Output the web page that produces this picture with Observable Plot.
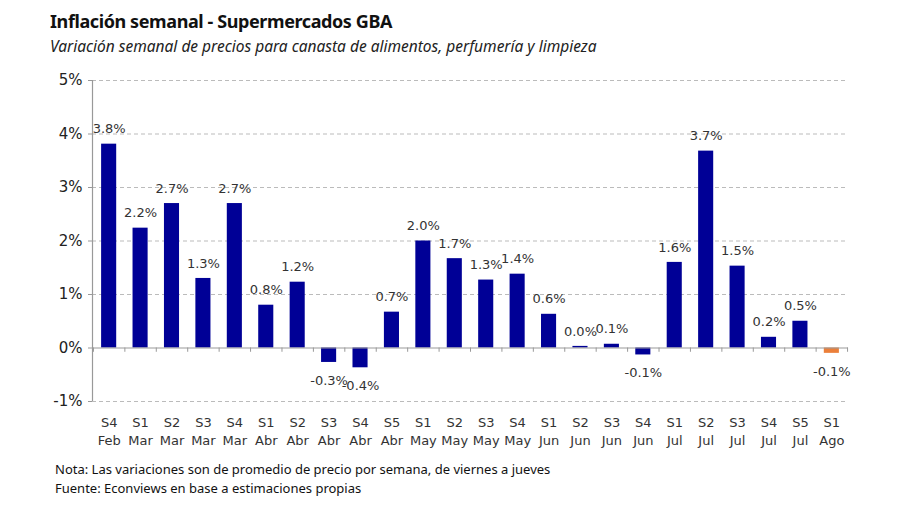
<!DOCTYPE html>
<html>
<head>
<meta charset="utf-8">
<script src="https://cdn.jsdelivr.net/npm/d3@7"></script>
<script src="https://cdn.jsdelivr.net/npm/@observablehq/plot@0.6"></script>
<style>
  html, body { margin: 0; padding: 0; background: #fff; }
  body { width: 900px; height: 505px; overflow: hidden; font-family: "Noto Sans", "DejaVu Sans", sans-serif; color: #111; }
  #title { position: absolute; left: 50px; top: 9px; font-size: 18px; font-weight: bold; letter-spacing: -0.4px; }
  #subtitle { position: absolute; left: 50px; top: 35px; font-size: 15.5px; font-style: italic; color: #222; }
  #chart { position: absolute; left: 0; top: 63px; }
  #notes { position: absolute; left: 55px; top: 460px; font-size: 13px; line-height: 19px; color: #111; }
</style>
</head>
<body>
<div id="title">Inflación semanal - Supermercados GBA</div>
<div id="subtitle">Variación semanal de precios para canasta de alimentos, perfumería y limpieza</div>
<div id="chart"></div>
<div id="notes">Nota: Las variaciones son de promedio de precio por semana, de viernes a jueves<br>Fuente: Econviews en base a estimaciones propias</div>
<script>
const weeks  = ["S4","S1","S2","S3","S4","S1","S2","S3","S4","S5","S1","S2","S3","S4","S1","S2","S3","S4","S1","S2","S3","S4","S5","S1"];
const months = ["Feb","Mar","Mar","Mar","Mar","Abr","Abr","Abr","Abr","Abr","May","May","May","May","Jun","Jun","Jun","Jun","Jul","Jul","Jul","Jul","Jul","Ago"];
const values = [3.81, 2.24, 2.70, 1.30, 2.70, 0.80, 1.23, -0.27, -0.37, 0.67, 2.00, 1.67, 1.27, 1.38, 0.63, 0.03, 0.07, -0.13, 1.60, 3.68, 1.53, 0.20, 0.50, -0.10];
const yTicks = [-1, 0, 1, 2, 3, 4, 5];

const data = values.map((v, i) => ({
  key: weeks[i] + "\n" + months[i],
  value: v,
  last: i === values.length - 1
}));
const domain = data.map(d => d.key);
const pos = data.filter(d => d.value >= 0);
const neg = data.filter(d => d.value < 0);

const W = 900, H = 400, ML = 92, MR = 52, MT = 17, MB = 62;
const PI = 0.52, PO = 0.29;
const xs = Plot.scale({x: {type: "band", domain, range: [ML, W - MR], paddingInner: PI, paddingOuter: PO, round: false}});
const step = xs.step;
const firstCenter = xs.apply(domain[0]) + xs.bandwidth / 2;

const chart = Plot.plot({
  width: W, height: H,
  marginLeft: ML, marginRight: MR, marginTop: MT, marginBottom: MB,
  style: {fontFamily: "'DejaVu Sans', sans-serif", fontSize: "13px", color: "#333", background: "#fff"},
  x: {domain, paddingInner: PI, paddingOuter: PO, round: false, label: null},
  y: {domain: [-1, 5], label: null},
  marks: [
    Plot.gridY(yTicks.filter(t => t !== 0), {stroke: "#bbb", strokeOpacity: 1, strokeDasharray: "4,3"}),
    Plot.barY(data, {x: "key", y: "value", fill: d => d.last ? "#EB7F3A" : "#000096"}),
    Plot.ruleY([0], {stroke: "#999", strokeWidth: 1.2}),
    Plot.ruleX(domain, {x: d => d, y1: 0, y2: -0.08, dx: -step / 2, stroke: "#999"}),
    Plot.ruleX([domain[domain.length - 1]], {x: d => d, y1: 0, y2: -0.08, dx: step / 2, stroke: "#999"}),
    Plot.axisY(yTicks, {tickFormat: d => d + "%", tickSize: 4, stroke: "#999", fontSize: 15, fill: "#222", tickPadding: 6}),
    Plot.ruleX([domain[0]], {x: d => d, y1: -1, y2: 5, dx: -(firstCenter - ML), stroke: "#999", strokeWidth: 1.2}),
    Plot.axisX({tickSize: 0, tickPadding: 13, fontSize: 13, fill: "#333", lineHeight: 1.38}),
    Plot.text(pos, {x: "key", y: "value", text: d => d.value.toFixed(1) + "%", dy: -15, fontSize: 13, fill: "#333"}),
    Plot.text(neg, {x: "key", y: "value", text: d => d.value.toFixed(1) + "%", dy: 18, fontSize: 13, fill: "#333"})
  ]
});
document.getElementById("chart").appendChild(chart);
</script>
</body>
</html>
